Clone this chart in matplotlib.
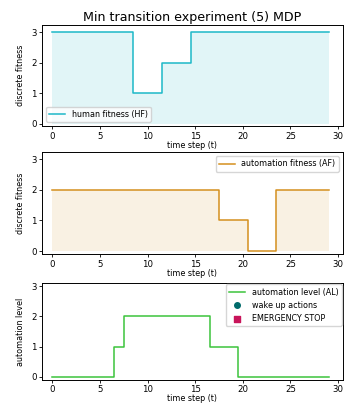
import numpy as np
import matplotlib
matplotlib.use("Agg")
import matplotlib.pyplot as plt

# time steps and discrete levels per step
t = np.arange(30)
hf = [3, 3, 3, 3, 3, 3, 3, 3, 3, 1, 1, 1, 2, 2, 2,
      3, 3, 3, 3, 3, 3, 3, 3, 3, 3, 3, 3, 3, 3, 3]
af = [2, 2, 2, 2, 2, 2, 2, 2, 2, 2, 2, 2, 2, 2, 2, 2, 2, 2,
      1, 1, 1, 0, 0, 0, 2, 2, 2, 2, 2, 2]
al = [0, 0, 0, 0, 0, 0, 0, 1, 2, 2, 2, 2, 2, 2, 2, 2, 2,
      1, 1, 1, 0, 0, 0, 0, 0, 0, 0, 0, 0, 0]
wake_t, wake_v = [], []
stop_t, stop_v = [], []

HF_C = "#1db8c8"
AF_C = "#d4901e"
AL_C = "#3cc43c"

plt.rcParams.update({"font.size": 5.8, "axes.linewidth": 0.7,
                     "xtick.major.width": 0.6, "ytick.major.width": 0.6,
                     "xtick.major.size": 2.5, "ytick.major.size": 2.5})

fig = plt.figure(figsize=(3.47, 4.08), dpi=100)
ax1 = fig.add_axes([0.121, 0.691, 0.867, 0.248])
ax2 = fig.add_axes([0.121, 0.377, 0.867, 0.250])
ax3 = fig.add_axes([0.121, 0.069, 0.867, 0.237])

ax1.step(t, hf, where="mid", color=HF_C, lw=1.1, label="human fitness (HF)")
ax1.fill_between(t, hf, step="mid", color=HF_C, alpha=0.13, lw=0)
ax1.set_ylabel("discrete fitness")
ax1.legend(loc="lower left")
ax1.set_title("Min transition experiment (5) MDP", fontsize=9.1, pad=3)

ax2.step(t, af, where="mid", color=AF_C, lw=1.1, label="automation fitness (AF)")
ax2.fill_between(t, af, step="mid", color=AF_C, alpha=0.12, lw=0)
ax2.set_ylabel("discrete fitness")
ax2.legend(loc="upper right")

ax3.step(t, al, where="mid", color=AL_C, lw=1.1, label="automation level (AL)")
ax3.scatter(wake_t, wake_v, color="#006b6b", marker="o", s=16, label="wake up actions")
ax3.scatter(stop_t, stop_v, color="#c8145a", marker="s", s=16, label="EMERGENCY STOP")
ax3.set_ylabel("automation level")
ax3.legend(loc="upper right", borderaxespad=0.15)

for ax in (ax1, ax2, ax3):
    ax.set_xlim(-1.1, 30.5)
    ax.set_xticks(range(0, 31, 5))
    ax.set_yticks([0, 1, 2, 3])
    ax.set_xlabel("time step (t)", labelpad=0)
    ax.tick_params(pad=1.5, labelsize=6.2)
ax1.set_ylim(-0.08, 3.24)
ax2.set_ylim(-0.1, 3.23)
ax3.set_ylim(-0.1, 3.1)

fig.savefig("out.png", dpi=100)
